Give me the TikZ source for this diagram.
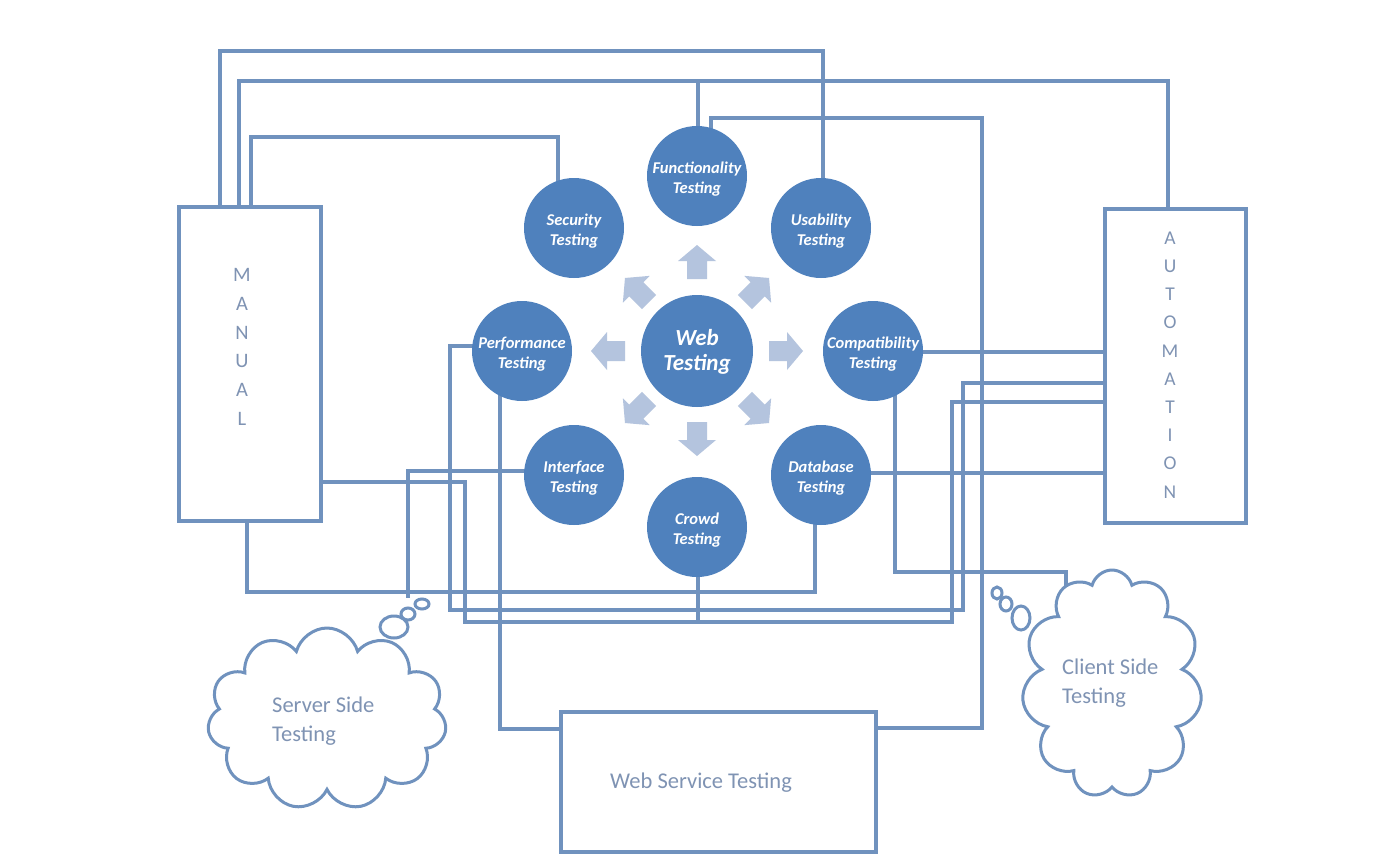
\documentclass[tikz,border=0pt]{standalone}
\usepackage{fontspec}
\setmainfont{Carlito}
\usetikzlibrary{shapes.symbols,backgrounds}
\definecolor{linec}{HTML}{7092BE}
\definecolor{circc}{HTML}{4F81BD}
\definecolor{arrc}{HTML}{B4C4DE}
\definecolor{txtc}{HTML}{7F93B3}
\tikzset{
  circtext/.style={text=white, font=\fontsize{16.5}{20}\selectfont\bfseries\itshape,
    align=center, inner sep=0pt, yshift=-3pt},
  circ/.style={circle, fill=circc, minimum size=100pt, inner sep=0pt,
    label={[circtext]center:#1}},
  conn/.style={draw=linec, line width=3.6pt},
  boxs/.style={draw=linec, line width=3.6pt, fill=white, inner sep=0pt},
  cloudst/.style={cloud, cloud ignores aspect, draw=linec, line width=3pt, fill=white, inner sep=0pt},
  bubble/.style={draw=linec, line width=3pt, fill=white},
  lbl/.style={text=txtc, font=\fontsize{22.5}{29}\selectfont, align=left, inner sep=0pt},
  vlbl/.style={text=txtc, font=\fontsize{20.5}{28.8}\selectfont, align=center, inner sep=0pt},
  barrow/.pic={\fill[arrc] (-17,-10) -- (1,-10) -- (1,-19) -- (17,0) -- (1,19) -- (1,10) -- (-17,10) -- cycle;}
}
\begin{document}
\begin{tikzpicture}[x=1pt,y=-1pt]
\useasboundingbox (0,0) rectangle (1376,860);

% boxes
\node[boxs, minimum width=142pt, minimum height=314pt] (man) at (250,364) {};
\node[boxs, minimum width=141pt, minimum height=314pt] (auto) at (1175.5,366) {};
\node[boxs, minimum width=315pt, minimum height=140pt] (ws) at (718.5,782) {};
\node[vlbl] (mantxt) at (242,347) {M\\A\\N\\U\\A\\L};
\node[vlbl, font=\fontsize{19.5}{28.2}\selectfont] (autotxt) at (1170,365) {A\\U\\T\\O\\M\\A\\T\\I\\O\\N};
\node[lbl, anchor=west] (wstxt) at (610,783) {Web Service Testing};

% circles
\node[circ={Security\\Testing}] (sec) at (574,228) {};
\node[circ={Functionality\\Testing}] (fun) at (697,176) {};
\node[circ={Usability\\Testing}] (use) at (821,228) {};
\node[circ={Performance\\Testing}] (perf) at (522,351) {};
\node[circ={}, minimum size=112pt] (web) at (697,351) {};
\node[circtext, font=\fontsize{23}{25}\selectfont\bfseries\itshape, yshift=2pt] (webtxt) at (web.center) {Web\\Testing};
\node[circ={Compatibility\\Testing}] (comp) at (873,351) {};
\node[circ={Interface\\Testing}] (int) at (574,475) {};
\node[circ={Crowd\\Testing}] (crowd) at (697,527) {};
\node[circ={Database\\Testing}] (db) at (821,475) {};

% block arrows around Web Testing
\pic[rotate=90] at (697,262) {barrow};
\pic[rotate=270] at (697,439) {barrow};
\pic[rotate=180] at (608,351) {barrow};
\pic[rotate=0] at (786,351) {barrow};
\pic[rotate=135] at (637,290) {barrow};
\pic[rotate=45] at (757,290) {barrow};
\pic[rotate=225] at (637,411) {barrow};
\pic[rotate=315] at (757,411) {barrow};

% clouds
\node[cloudst, cloud puffs=11, minimum width=239pt, minimum height=182pt] (scl) at (327,719) {};
\node[cloudst, cloud puffs=11, minimum width=180pt, minimum height=228pt] (ccl) at (1112,684) {};
\node[lbl, anchor=west] (scltxt) at (272,721) {Server Side\\Testing};
\node[lbl, anchor=west] (ccltxt) at (1062,683) {Client Side\\Testing};
\draw[bubble] (422,604) ellipse (7 and 5);
\draw[bubble] (408,614) ellipse (7 and 6);
\draw[bubble] (394,627) ellipse (14 and 11);
\draw[bubble] (997,593) ellipse (5 and 6);
\draw[bubble] (1006,604) ellipse (6 and 7);
\draw[bubble] (1021,618) ellipse (9 and 12);
\coordinate (sb) at (408,598);

\begin{pgfonlayer}{background}
\fill[white] (0,0) rectangle (1376,860);
\draw[conn] (man.north -| 220,0) -- (220,51) -- (823,51) -- (use.center -| 823,0);
\draw[conn] (man.north -| 239,0) -- (239,81) -- (1168,81) -- (auto.north -| 1168,0);
\draw[conn] (fun.center -| 698,0) -- (698,81);
\draw[conn] (man.north -| 251,0) -- (251,137) -- (558,137) -- (sec.center -| 558,0);
\draw[conn] (fun.center -| 711,0) -- (711,118) -- (982,118) -- (982,728) -- (ws.east |- 0,728);
\draw[conn] (comp.center |- 0,352) -- (auto.west |- 0,352);
\draw[conn] (perf.center |- 0,346) -- (450,346) -- (450,610) -- (963,610) -- (963,383) -- (auto.west |- 0,383);
\draw[conn] (man.east |- 0,482) -- (465,482) -- (465,622) -- (952,622) -- (952,402) -- (auto.west |- 0,402);
\draw[conn] (db.center |- 0,473) -- (auto.west |- 0,473);
\draw[conn] (comp.center -| 895,0) -- (895,572) -- (1066,572) -- (ccl.center -| 1066,0);
\draw[conn] (man.south -| 247,0) -- (247,592) -- (815,592) -- (db.center -| 815,0);
\draw[conn] (int.center |- 0,471) -- (408,471) -- (sb);
\draw[conn] (crowd.center -| 698,0) -- (698,622);
\draw[conn] (perf.center -| 500,0) -- (500,729) -- (ws.west |- 0,729);
\end{pgfonlayer}
\end{tikzpicture}
\end{document}
